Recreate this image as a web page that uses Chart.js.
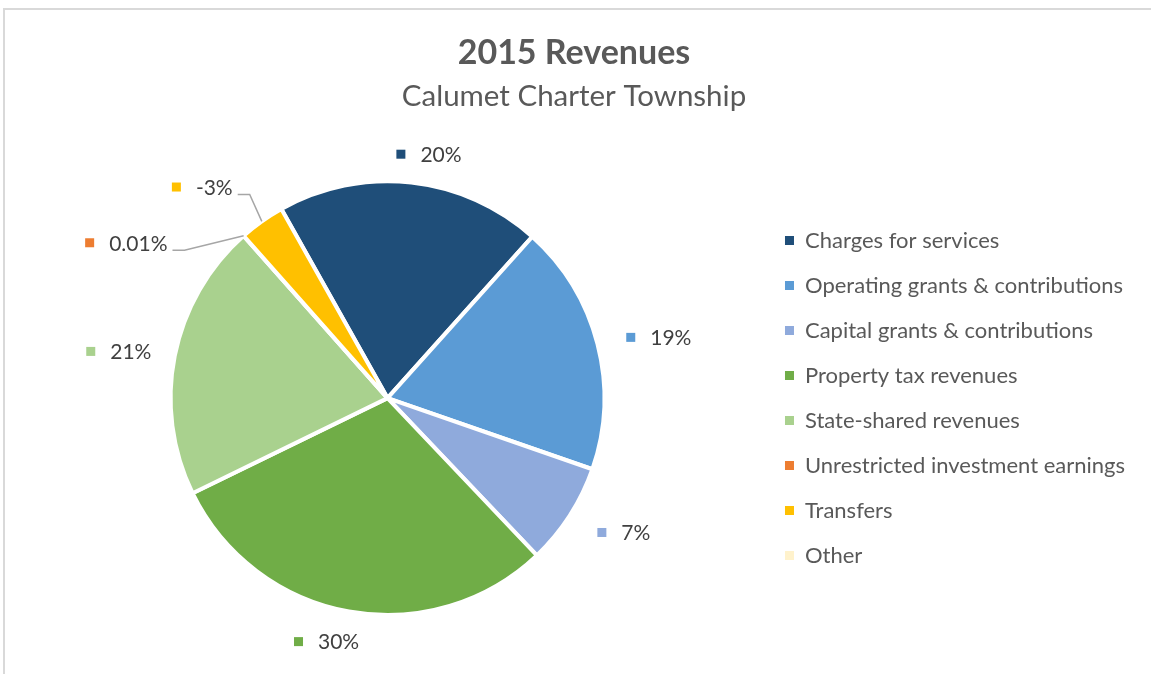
<!DOCTYPE html>
<html>
<head>
<meta charset="utf-8">
<script src="https://cdn.jsdelivr.net/npm/chart.js@4.4.1/dist/chart.umd.min.js"></script>
<style>
  body { margin: 0; background: #fff; }
  #frame { position: absolute; left: 3px; top: 8px; width: 1160px; height: 700px; border: 2px solid #d9d9d9; }
  #revenueChart { position: absolute; left: 0; top: 0; }
</style>
</head>
<body>
<div id="frame"></div>
<canvas id="revenueChart" width="1151" height="674"></canvas>
<script>
const categories = [
  'Charges for services',
  'Operating grants & contributions',
  'Capital grants & contributions',
  'Property tax revenues',
  'State-shared revenues',
  'Unrestricted investment earnings',
  'Transfers',
  'Other',
];
// share of revenues in percent
const values = [19.8, 18.7, 7.6, 29.9, 20.7, 0.01, -3.4, 0];
// labels as printed on the chart
const labelText = ['20%', '19%', '7%', '30%', '21%', '0.01%', '-3%', ''];

const colors = ['#1f4e79', '#5b9bd5', '#8faadc', '#70ad47', '#a9d18e', '#ed7d31', '#ffc000', '#fff2cc'];
// small shifts of the data labels from their outside-end spot (px)
const labelNudge = [[14, 5], [9, 7], [14, -9], [-16, -5], [-3, 6], [-81, 48], [-33, 3], [0, 0]];
const withLeader = [false, false, false, false, false, true, true, false];

const sliceLabels = {
  id: 'sliceLabels',
  afterDatasetsDraw(chart) {
    const ctx = chart.ctx;
    const meta = chart.getDatasetMeta(0);
    ctx.save();
    ctx.font = '21px Lato';
    ctx.textBaseline = 'middle';
    ctx.textAlign = 'left';
    meta.data.forEach((arc, i) => {
      if (!values[i]) return;
      const p = arc.getProps(['x', 'y', 'startAngle', 'endAngle', 'outerRadius'], true);
      const mid = (p.startAngle + p.endAngle) / 2;
      const dx = Math.cos(mid);
      const dy = Math.sin(mid);
      const tw = ctx.measureText(labelText[i]).width;
      const w = 24 + tw;
      const h = 20;
      const half = Math.abs(dx) * w / 2 + Math.abs(dy) * h / 2;
      const dist = p.outerRadius + 20 + half;
      const cx = p.x + dx * dist + labelNudge[i][0];
      const cy = p.y + dy * dist + labelNudge[i][1];
      const left = cx - w / 2;

      ctx.fillStyle = colors[i];
      ctx.fillRect(left, cy - 4.5, 9, 9);
      ctx.fillStyle = '#404040';
      ctx.fillText(labelText[i], left + 24, cy + 1);

      if (withLeader[i]) {
        const lx = left + w + 5;
        const ly = cy + 7.5;
        ctx.strokeStyle = '#a6a6a6';
        ctx.lineWidth = 1.5;
        ctx.beginPath();
        ctx.moveTo(lx, ly);
        ctx.lineTo(lx + 12, ly);
        ctx.lineTo(p.x + dx * p.outerRadius, p.y + dy * p.outerRadius);
        ctx.stroke();
      }
    });
    ctx.restore();
  },
};

const ctx = document.getElementById('revenueChart').getContext('2d');
const defaultLabels = Chart.overrides.pie.plugins.legend.labels.generateLabels;

new Chart(ctx, {
  type: 'pie',
  data: {
    labels: categories,
    datasets: [
      {
        data: values.map((v) => Math.abs(v)),
        backgroundColor: colors,
        borderColor: '#ffffff',
        borderWidth: 4,
      },
    ],
  },
  options: {
    responsive: false,
    animation: false,
    rotation: -29.3,
    layout: {
      padding: { left: 13, right: 16, top: 0, bottom: 57 },
    },
    plugins: {
      title: {
        display: true,
        text: '2015 Revenues',
        color: '#595959',
        font: { family: 'Lato', size: 34, weight: 'bold', lineHeight: 1.2 },
        padding: { top: 33, bottom: 0 },
      },
      subtitle: {
        display: true,
        text: 'Calumet Charter Township',
        color: '#595959',
        font: { family: 'Lato', size: 29.5, lineHeight: 1.2 },
        padding: { top: 5, bottom: 65 },
      },
      legend: {
        position: 'right',
        fullSize: false,
        labels: {
          color: '#595959',
          font: { family: 'Lato', size: 22 },
          boxWidth: 9,
          boxHeight: 9,
          padding: 23,
          generateLabels(chart) {
            return defaultLabels(chart).map((item) => ({ ...item, lineWidth: 0, strokeStyle: item.fillStyle }));
          },
        },
      },
      tooltip: { enabled: false },
    },
  },
  plugins: [sliceLabels],
});
</script>
</body>
</html>
